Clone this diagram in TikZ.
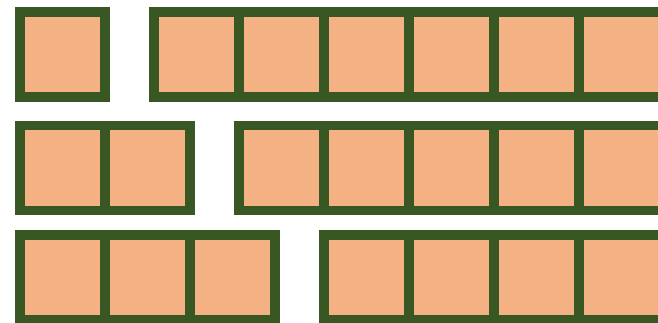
\documentclass[tikz,border=0pt]{standalone}
\usepackage{xcolor}
\definecolor{cellorange}{RGB}{244,177,131}
\definecolor{cellgreen}{RGB}{56,87,35}
\tikzset{
  cell/.style={rectangle, draw=cellgreen, fill=cellorange, line width=9.5pt,
               minimum size=85pt, inner sep=0pt, outer sep=0pt},
}
\begin{document}
\begin{tikzpicture}[x=1pt, y=-1pt]
\clip (0,0) rectangle (658,322);
\foreach \row/\ypos in {1/54.5, 2/168, 3/277.5} {
  \pgfmathtruncatemacro\rcount{7-\row}
  \pgfmathsetmacro\rstart{69+85*\row}
  % short strip on the left
  \foreach \k in {1,...,\row}
    \node[cell] (left-\row-\k) at ({85*\k-22.5}, \ypos) {};
  % long strip after the gap
  \foreach \k in {1,...,\rcount}
    \node[cell] (right-\row-\k) at ({\rstart+85*\k-42.5}, \ypos) {};
}
\end{tikzpicture}
\end{document}
